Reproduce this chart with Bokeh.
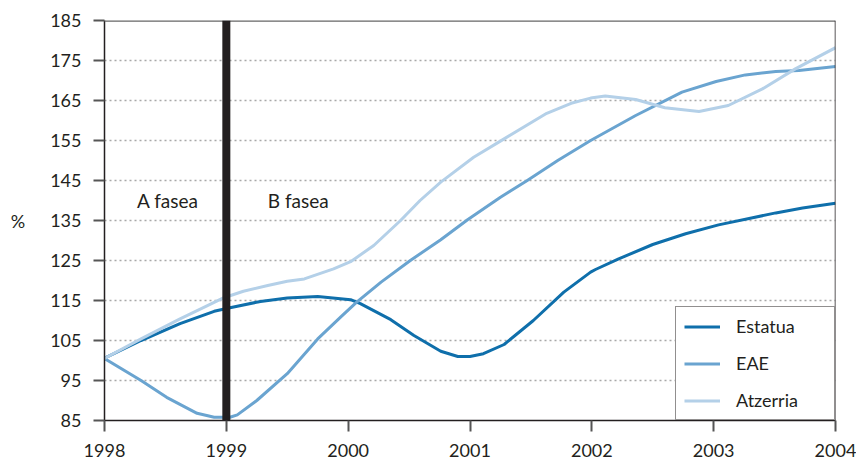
from bokeh.plotting import figure
from bokeh.models import Span, Label, Legend, LegendItem, FixedTicker, Range1d
from bokeh.embed import file_html
from bokeh.resources import INLINE

# Values (year, index %)
estatua_x = [1998.00, 1998.30, 1998.62, 1998.90, 1999.03, 1999.28, 1999.50, 1999.75,
             2000.02, 2000.10, 2000.35, 2000.54, 2000.76, 2000.90, 2001.00, 2001.11,
             2001.28, 2001.52, 2001.77, 2001.99, 2002.03, 2002.22, 2002.50, 2002.77,
             2003.04, 2003.32, 2003.51, 2003.73, 2004.00]
estatua_y = [100.6, 105.0, 109.2, 112.3, 113.2, 114.75, 115.6, 116.0,
             115.2, 114.2, 110.2, 106.25, 102.3, 101.0, 101.0, 101.7,
             104.0, 110.0, 117.1, 122.1, 122.75, 125.4, 129.0, 131.7,
             133.9, 135.7, 136.9, 138.1, 139.3]

eae_x = [1998.00, 1998.30, 1998.51, 1998.76, 1998.90, 1999.03, 1999.09, 1999.25,
         1999.50, 1999.75, 1999.94, 2000.07, 2000.27, 2000.51, 2000.76, 2000.98,
         2001.25, 2001.47, 2001.72, 2001.99, 2002.36, 2002.74, 2003.02, 2003.26,
         2003.51, 2003.70, 2004.00]
eae_y = [100.5, 95.0, 90.8, 86.8, 85.8, 85.8, 86.4, 90.0,
         96.7, 105.4, 110.9, 114.6, 119.6, 125.0, 130.2, 135.2,
         140.8, 145.0, 150.0, 155.0, 161.25, 167.1, 169.75, 171.4,
         172.25, 172.5, 173.5]

atzerria_x = [1998.00, 1998.30, 1998.62, 1998.79, 1998.98, 1999.14, 1999.34, 1999.50,
              1999.64, 1999.88, 2000.02, 2000.21, 2000.43, 2000.59, 2000.76, 2001.03,
              2001.28, 2001.63, 2001.83, 2001.99, 2002.11, 2002.36, 2002.60, 2002.88,
              2003.12, 2003.40, 2003.67, 2004.00]
atzerria_y = [100.5, 105.4, 110.4, 112.9, 115.7, 117.3, 118.75, 119.8,
              120.4, 122.9, 124.7, 128.75, 135.0, 140.0, 144.6, 150.8,
              155.4, 161.8, 164.3, 165.6, 166.1, 165.25, 163.2, 162.25,
              163.75, 167.9, 172.9, 178.2]

series_names = ["Estatua", "EAE", "Atzerria"]
series_colors = ["#0f6fab", "#6aa4d0", "#b4d0e8"]

x_ticks = [1998, 1999, 2000, 2001, 2002, 2003, 2004]
y_ticks = [85, 95, 105, 115, 125, 135, 145, 155, 165, 175, 185]
phase_break = 1999
phase_labels = ["A fasea", "B fasea"]
phase_label_x = [1998.52, 1999.59]
phase_label_y = 140
y_unit = "%"

FONT = "Lato"
TXT = "#231f20"

p = figure(width=856, height=461, output_backend="svg", toolbar_location=None,
           x_range=Range1d(1998, 2004), y_range=Range1d(85, 185),
           min_border_left=104, min_border_right=21, min_border_top=20, min_border_bottom=41)
p.outline_line_color = None
p.background_fill_color = "white"

# grid
p.xgrid.grid_line_color = None
p.ygrid.ticker = FixedTicker(ticks=y_ticks[1:-1])
p.ygrid.grid_line_color = "#a8a8a8"
p.ygrid.grid_line_dash = "2 3"
p.ygrid.grid_line_width = 1.5

# axes
for ax in (p.xaxis[0], p.yaxis[0]):
    ax.axis_line_color = "#231f20"
    ax.axis_line_width = 1.5
    ax.major_tick_line_color = "#555555"
    ax.major_tick_line_width = 2
    ax.major_tick_in = 0
    ax.major_tick_out = 11
    ax.minor_tick_line_color = None
    ax.major_label_text_font = FONT
    ax.major_label_text_font_size = "18px"
    ax.major_label_text_color = TXT
p.xaxis.ticker = FixedTicker(ticks=x_ticks)
p.yaxis.ticker = FixedTicker(ticks=y_ticks)
p.xaxis.major_label_standoff = 12
p.yaxis.major_label_standoff = 12

p.yaxis.axis_label = y_unit
p.yaxis.axis_label_text_font = FONT
p.yaxis.axis_label_text_font_size = "18px"
p.yaxis.axis_label_text_font_style = "normal"
p.yaxis.axis_label_text_color = TXT
p.yaxis.axis_label_standoff = 22
try:
    p.yaxis[0].axis_label_orientation = "horizontal"
except Exception:
    pass

renderers = []
for name, xs, ys, col in zip(series_names, [estatua_x, eae_x, atzerria_x],
                             [estatua_y, eae_y, atzerria_y], series_colors):
    r = p.line(xs, ys, line_color=col, line_width=3, line_join="round")
    renderers.append((name, r))

# top border (solid grey) and right border
p.add_layout(Span(location=185, dimension="width", line_color="#666666", line_width=2.5))
p.add_layout(Span(location=2004, dimension="height", line_color="#231f20", line_width=1.5))

# phase divider
p.add_layout(Span(location=phase_break, dimension="height", line_color="#231f20", line_width=8))

for txt, xx in zip(phase_labels, phase_label_x):
    p.add_layout(Label(x=xx, y=phase_label_y, text=txt, text_font=FONT, text_font_size="19px",
                       text_color=TXT, text_align="center", text_baseline="middle"))

legend = Legend(items=[LegendItem(label=n, renderers=[r]) for n, r in renderers],
                location="bottom_right")
legend.margin = 0
legend.padding = 8
legend.spacing = 15
legend.glyph_width = 36
legend.glyph_height = 21
legend.label_standoff = 16
legend.label_width = 90
legend.label_height = 21
legend.label_text_font = FONT
legend.label_text_font_size = "18px"
legend.label_text_color = TXT
legend.border_line_color = "#231f20"
legend.border_line_width = 1.5
legend.background_fill_alpha = 1
p.add_layout(legend)

open("out.html", "w").write(file_html(p, INLINE))
